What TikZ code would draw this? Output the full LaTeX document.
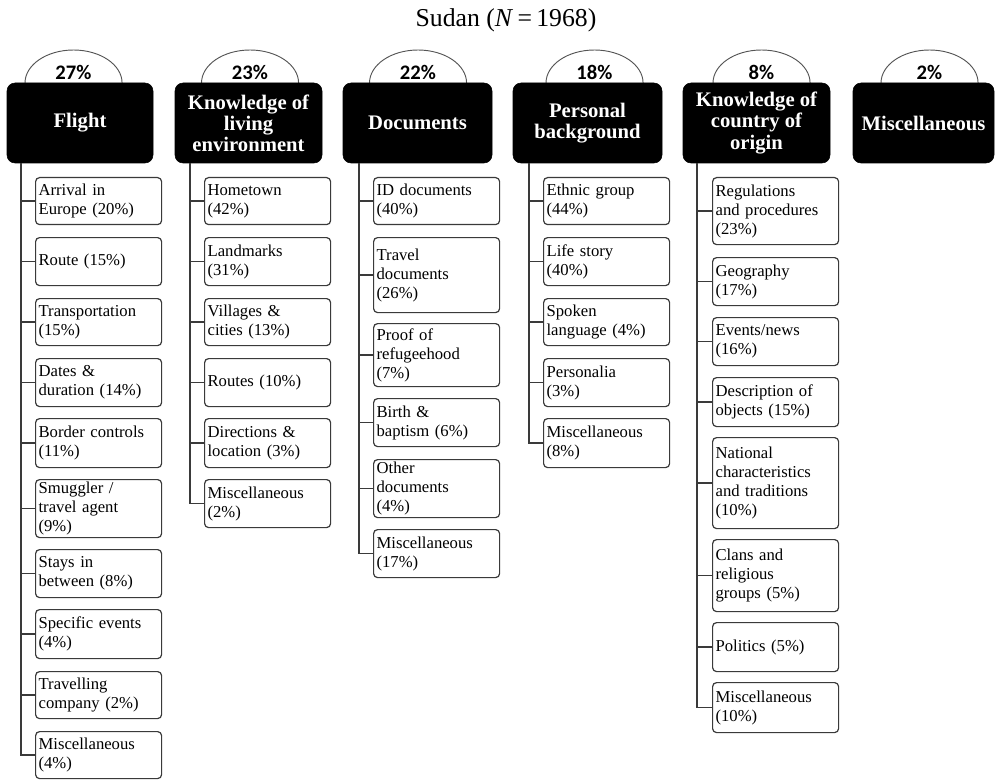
\documentclass[tikz,border=0pt]{standalone}
\usepackage{fontspec}
\setmainfont{Liberation Serif}
\newfontfamily\pctfont{Carlito}
\definecolor{linegray}{HTML}{3A3A3A}
\definecolor{arcgray}{HTML}{555555}
\begin{document}
\begin{tikzpicture}[x=0.75pt,y=-0.75pt,
  cat/.style={fill=black,draw=black,rounded corners=6pt,text=white,align=center,
    inner sep=0pt,minimum height=60pt,font=\fontsize{15.5}{15.8}\selectfont\bfseries},
  kid/.style={draw=linegray,line width=0.9pt,rounded corners=3pt,anchor=north west,
    text width=90pt,inner xsep=2.25pt,inner ysep=0pt,align=left,
    font=\fontsize{12.5}{14.2}\selectfont},
  conn/.style={draw=linegray,line width=1pt},
  arcl/.style={draw=arcgray,line width=0.7pt},
  pct/.style={font=\pctfont\bfseries\fontsize{15.5}{16}\selectfont,inner sep=0pt}]
\useasboundingbox (0,0) rectangle (996,781);
\newcommand\kid[5]{\node[kid,minimum height={(#4-#3)*0.75pt}] (#1) at (#2,#3) {#5};}
\newcommand\catbox[4]{\node[cat,minimum width={#3*0.75pt}] (#1) at (#2,123) {#4};}

% title
\node[font=\fontsize{19.3}{22}\selectfont,inner sep=0pt] (title) at (506,20) {Sudan (\textit{N}\,=\,1968)};

% arcs
\foreach \cx/\nm/\p in {73.5/a1/27\%,250/a2/23\%,418/a3/22\%,594.5/a4/18\%,761.5/a5/8\%,929.5/a6/2\%}{
  \draw[arcl] (\cx-48.5,83) arc (180:0:36.4pt and 24.75pt);
  \node[pct] (\nm) at (\cx,72) {\p};
}

% category boxes
\catbox{c1}{80}{146}{Flight}
\catbox{c2}{248.5}{147}{Knowledge of\\living\\environment}
\catbox{c3}{417.5}{149}{Documents}
\catbox{c4}{587.5}{149}{Personal\\background}
\catbox{c5}{756.5}{147}{Knowledge of\\country of\\origin}
\catbox{c6}{923.5}{141}{Miscellaneous}

% Flight
\kid{f1}{35}{177}{224}{Arrival in\\Europe (20\%)}
\kid{f2}{35}{237}{285}{Route (15\%)}
\kid{f3}{35}{298}{345}{Transportation\\(15\%)}
\kid{f4}{35}{358}{406}{Dates \&\\duration (14\%)}
\kid{f5}{35}{418}{467}{Border controls\\(11\%)}
\kid{f6}{35}{479}{537}{Smuggler /\\travel agent\\(9\%)}
\kid{f7}{35}{549}{597}{Stays in\\between (8\%)}
\kid{f8}{35}{609}{658}{Specific events\\(4\%)}
\kid{f9}{35}{671}{718}{Travelling\\company (2\%)}
\kid{f10}{35}{731}{778}{Miscellaneous\\(4\%)}

% Knowledge of living environment
\kid{l1}{204}{177}{224}{Hometown\\(42\%)}
\kid{l2}{204}{237}{285}{Landmarks\\(31\%)}
\kid{l3}{204}{298}{345}{Villages \&\\cities (13\%)}
\kid{l4}{204}{358}{406}{Routes (10\%)}
\kid{l5}{204}{418}{467}{Directions \&\\location (3\%)}
\kid{l6}{204}{479}{527}{Miscellaneous\\(2\%)}

% Documents
\kid{d1}{373}{177}{224}{ID documents\\(40\%)}
\kid{d2}{373}{237}{312}{Travel\\documents\\(26\%)}
\kid{d3}{373}{323}{386}{Proof of\\refugeehood\\(7\%)}
\kid{d4}{373}{398}{446}{Birth \&\\baptism (6\%)}
\kid{d5}{373}{459}{517}{Other\\documents\\(4\%)}
\kid{d6}{373}{529}{577}{Miscellaneous\\(17\%)}

% Personal background
\kid{p1}{543}{177}{224}{Ethnic group\\(44\%)}
\kid{p2}{543}{237}{285}{Life story\\(40\%)}
\kid{p3}{543}{298}{345}{Spoken\\language (4\%)}
\kid{p4}{543}{358}{406}{Personalia\\(3\%)}
\kid{p5}{543}{418}{467}{Miscellaneous\\(8\%)}

% Knowledge of country of origin
\kid{k1}{712}{177}{244}{Regulations\\and procedures\\(23\%)}
\kid{k2}{712}{257}{305}{Geography\\(17\%)}
\kid{k3}{712}{317}{365}{Events/news\\(16\%)}
\kid{k4}{712}{377}{426}{Description of\\objects (15\%)}
\kid{k5}{712}{437}{528}{National\\characteristics\\and traditions\\(10\%)}
\kid{k6}{712}{539}{611}{Clans and\\religious\\groups (5\%)}
\kid{k7}{712}{622}{671}{Politics (5\%)}
\kid{k8}{712}{682}{732}{Miscellaneous\\(10\%)}

% spines
\coordinate (s1) at (21,163);
\coordinate (s2) at (190,163);
\coordinate (s3) at (359,163);
\coordinate (s4) at (529,163);
\coordinate (s5) at (697,163);

\draw[conn] (s1) |- (f10.west);
\foreach \n in {f1,f2,f3,f4,f5,f6,f7,f8,f9}{\draw[conn] (s1 |- \n.west) -- (\n.west);}
\draw[conn] (s2) |- (l6.west);
\foreach \n in {l1,l2,l3,l4,l5}{\draw[conn] (s2 |- \n.west) -- (\n.west);}
\draw[conn] (s3) |- (d6.west);
\foreach \n in {d1,d2,d3,d4,d5}{\draw[conn] (s3 |- \n.west) -- (\n.west);}
\draw[conn] (s4) |- (p5.west);
\foreach \n in {p1,p2,p3,p4}{\draw[conn] (s4 |- \n.west) -- (\n.west);}
\draw[conn] (s5) |- (k8.west);
\foreach \n in {k1,k2,k3,k4,k5,k6,k7}{\draw[conn] (s5 |- \n.west) -- (\n.west);}
\end{tikzpicture}
\end{document}
